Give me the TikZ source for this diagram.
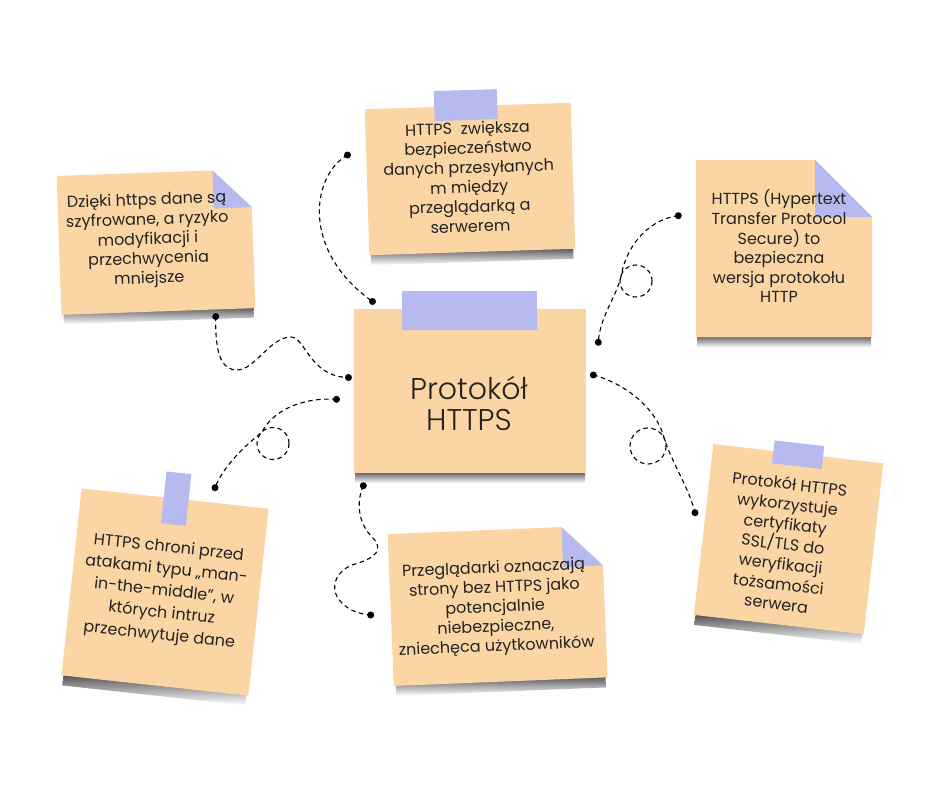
\documentclass[tikz,border=0pt]{standalone}
\usepackage{fontspec}
\setmainfont{Poppins}
\newfontfamily\poplight{Poppins}[UprightFont={* Light}]
\definecolor{paper}{HTML}{FCD5A5}
\definecolor{tape}{HTML}{B6BAEE}
\definecolor{ink}{HTML}{222222}
\tikzset{
  paper/.style={fill=paper},
  tapestrip/.style={fill=tape},
  shadowbar/.style={top color=black!70, bottom color=white},
  notetext/.style={text=ink, align=center, font=\fontsize{16}{19.6}\selectfont},
  link/.style={line width=1.1pt, dash pattern=on 4.5pt off 3.5pt},
}
\begin{document}
\begin{tikzpicture}[x=1pt,y=-1pt]
\useasboundingbox (0,0) rectangle (940,788);

% top left note
\begin{scope}[shift={(156,242)}, rotate=2, transform shape]
\shade[shadowbar] (-95,67) rectangle (95,79);
\fill[paper] (-97,-69.5) -- (59,-69.5) -- (97,-31.5) -- (97,69.5) -- (-97,69.5) -- cycle;
\fill[tapestrip] (59,-69.5) -- (59,-31.5) -- (97,-31.5) -- cycle;
\node[notetext] (dzieki) at (-8,-2) {Dzięki https dane są\\szyfrowane, a ryzyko\\modyfikacji i\\przechwycenia\\mniejsze};
\end{scope}

% top middle note
\begin{scope}[shift={(470,179)}, rotate=1.8, transform shape]
\shade[shadowbar] (-101,71) rectangle (101,83);
\fill[paper] (-103,-73) rectangle (103,73);
\fill[tapestrip] (-33.5,-89) rectangle (29.5,-59);
\node[notetext] (zwieksza) at (-1,-2) {HTTPS\ \ zwiększa\\bezpieczeństwo\\danych przesyłanych\\m między\\przeglądarką a\\serwerem};
\end{scope}

% top right note
\begin{scope}[shift={(784,248.5)}]
\shade[shadowbar] (-87,86) rectangle (87,99);
\fill[paper] (-88,-88.5) -- (31,-88.5) -- (88,-31.5) -- (88,88.5) -- (-88,88.5) -- cycle;
\fill[tapestrip] (31,-88.5) -- (31,-31.5) -- (88,-31.5) -- cycle;
\node[notetext] (definicja) at (-5,-2) {HTTPS (Hypertext\\Transfer Protocol\\Secure) to\\bezpieczna\\wersja protokołu\\HTTP};
\end{scope}

% main note
\begin{scope}[shift={(470,391)}]
\shade[shadowbar] (-115,80) rectangle (115,92);
\fill[paper] (-116,-82) rectangle (116,82);
\fill[tapestrip] (-68,-100) rectangle (67,-61);
\node[text=ink, align=center, font=\poplight\fontsize{30}{31}\selectfont] (main) at (-1,12) {Protokół\\HTTPS};
\end{scope}

% bottom left note
\begin{scope}[shift={(165,592)}, rotate=-6.2, transform shape]
\shade[shadowbar] (-92,92) rectangle (92,104);
\fill[paper] (-94,-94) rectangle (94,94);
\fill[tapestrip] (-11.5,-120) rectangle (13.5,-68);
\node[notetext, font=\fontsize{16}{22}\selectfont] (atak) at (-1,0) {HTTPS chroni przed\\atakami typu „man-\\in-the-middle”, w\\których intruz\\przechwytuje dane};
\end{scope}

% bottom middle note
\begin{scope}[shift={(497.6,605.7)}, rotate=2.3, transform shape]
\shade[shadowbar] (-105,74) rectangle (105,86);
\fill[paper] (-107,-76) -- (67,-76) -- (107,-36) -- (107,76) -- (-107,76) -- cycle;
\fill[tapestrip] (67,-76) -- (67,-36) -- (107,-36) -- cycle;
\node[notetext] (przegladarki) at (-2.5,2.4) {Przeglądarki oznaczają\\strony bez HTTPS jako\\potencjalnie\\niebezpieczne,\\zniechęca użytkowników};
\end{scope}

% bottom right note
\begin{scope}[shift={(788.6,539.1)}, rotate=-6.5, transform shape]
\shade[shadowbar] (-84,84) rectangle (84,96);
\fill[paper] (-85.5,-86) rectangle (85.5,86);
\fill[tapestrip] (-25,-96.5) rectangle (25,-73.5);
\node[notetext, font=\fontsize{16}{20.1}\selectfont] (certyfikaty) at (-5,5) {Protokół HTTPS\\wykorzystuje\\certyfikaty\\SSL/TLS do\\weryfikacji\\tożsamości\\serwera};
\end{scope}

% connectors
\coordinate (a1) at (347.5,155);
\coordinate (a2) at (372.5,301.5);
\coordinate (b1) at (215.7,316.5);
\coordinate (b2) at (348.5,377.5);
\coordinate (c1) at (336.5,399.3);
\coordinate (c2) at (215,487.7);
\coordinate (d1) at (363.3,485.7);
\coordinate (d2) at (370.7,615);
\coordinate (e1) at (678.3,215.7);
\coordinate (e2) at (598.3,342.3);
\coordinate (f1) at (593.3,375);
\coordinate (f2) at (695,512.7);

\draw[link] (a1) .. controls (312,175) and (300,250) .. (a2);
\draw[link] (b1) .. controls (215,355) and (222,370) .. (237,370) .. controls (255,370) and (270,337) .. (291,337) .. controls (305,337) and (310,377) .. (b2);
\draw[link] (c1) .. controls (300,397) and (272,412) .. (262,432) .. controls (245,446) and (224,465) .. (c2);
\draw[link] (273,443.5) circle(16);
\draw[link] (d1) .. controls (355,505) and (360,525) .. (372,537) .. controls (385,550) and (375,558) .. (355,564) .. controls (335,570) and (328,590) .. (342,603) .. controls (350,611) and (360,614) .. (d2);
\draw[link] (e1) .. controls (645,220) and (626,250) .. (621.5,274) .. controls (618,295) and (600,315) .. (e2);
\draw[link] (636,281) circle(16);
\draw[link] (f1) .. controls (630,385) and (657,412) .. (663.5,436) .. controls (669.5,458) and (690,490) .. (f2);
\draw[link] (648,446) circle(18);

\foreach \p in {a1,a2,b1,b2,c1,c2,d1,d2,e1,e2,f1,f2}
  \fill (\p) circle(3.5);
\end{tikzpicture}
\end{document}
